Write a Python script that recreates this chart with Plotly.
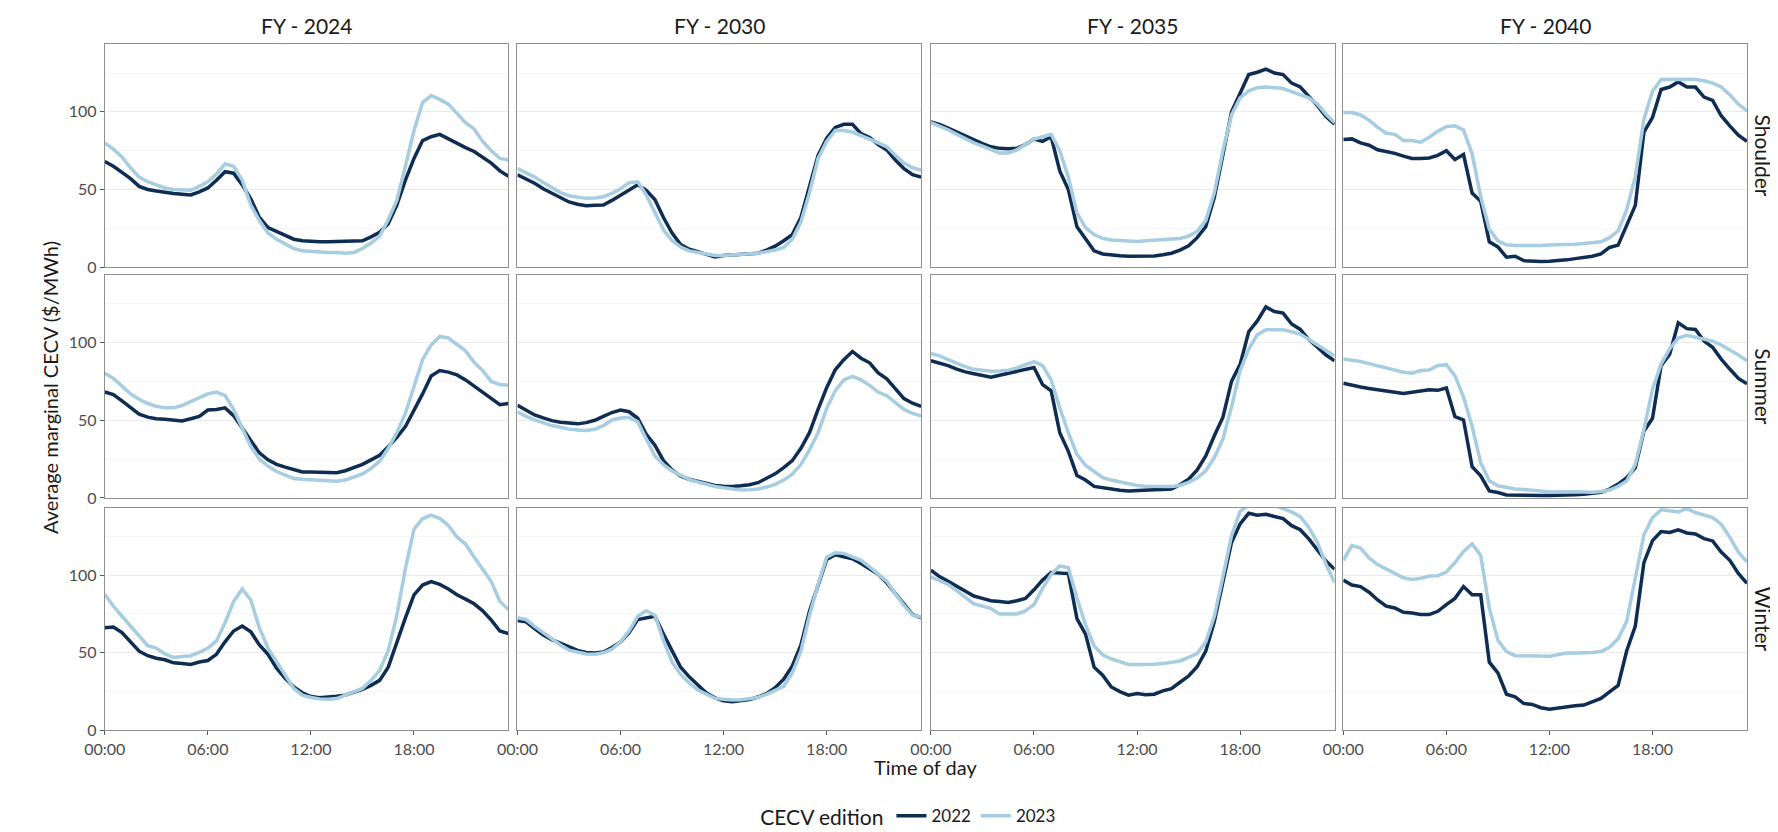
import plotly.graph_objects as go

# ---------------- data ----------------
hours = [i * 0.5 for i in range(48)]
tick_vals = [0, 6, 12, 18]
tick_text = ["00:00", "06:00", "12:00", "18:00"]
years = ["FY - 2024", "FY - 2030", "FY - 2035", "FY - 2040"]
seasons = ["Shoulder", "Summer", "Winter"]
editions = ["2022", "2023"]

shoulder_2024_e2022 = [68, 65, 61, 57, 52, 50, 49, 48, 47.5, 47, 46.5, 48.5, 51, 56, 61.5, 60.5, 53, 44, 32, 25.5, 23, 20.5, 18, 17, 16.5, 16.3, 16.3, 16.5, 16.5, 16.5, 17, 19.5, 22.5, 28, 40, 56, 70, 81.5, 84, 85.5, 82.5, 80, 77, 74.5, 71, 67, 62, 58.5]
shoulder_2024_e2023 = [80, 76, 71, 64, 58, 55, 53, 51, 50, 49.5, 49.5, 52, 55, 60, 66.5, 65, 56, 40, 30, 22, 18, 15, 12, 10.5, 10, 10, 9.5, 9.5, 9, 9.5, 12, 15.5, 20, 30.5, 43, 65, 88, 106, 110.5, 108, 105, 99, 93, 89, 81, 75, 70, 69]
shoulder_2030_e2022 = [59.5, 57, 54, 50.5, 47.5, 44.5, 42, 40.5, 39.5, 39.8, 40, 43, 46.5, 50, 53, 49.5, 43.5, 32, 22, 14.5, 11.5, 10, 8.5, 6.5, 7.5, 7.8, 8, 8.5, 9, 11, 13.5, 17, 21, 32, 53, 72, 83, 90, 92, 92, 86, 83.5, 79, 75.5, 69, 63.5, 59.5, 58]
shoulder_2030_e2023 = [63.5, 61, 58, 54.5, 51, 48, 46, 45, 44.3, 44.5, 45.3, 47.5, 50.5, 54.4, 55, 46.5, 35, 24, 17, 13, 10.5, 9.5, 8.5, 7.5, 7.5, 7.8, 8, 8.3, 9, 10, 11, 12.7, 18, 29, 48, 70, 81, 88, 88, 87, 85, 82.5, 80, 77.5, 72, 67, 64, 62.5]
shoulder_2035_e2022 = [93.5, 92, 89.5, 87, 84, 81.5, 79.5, 77.5, 76.5, 76.3, 76.5, 79, 82.5, 81, 84, 62, 50, 26, 18.5, 10.5, 8.5, 7.8, 7.3, 7, 7, 7, 7.2, 8, 9, 11, 13.8, 19, 26, 45, 74, 100, 112, 124, 125.5, 127.5, 125, 124, 118.5, 116, 110, 104, 97, 92]
shoulder_2035_e2023 = [93, 91, 88.5, 85.5, 82.5, 80, 78, 76, 73.5, 73.5, 75.5, 79, 82.5, 84, 85.5, 75, 58, 35, 25.5, 21, 18.5, 17.5, 17, 16.5, 16.5, 17, 17.5, 17.5, 18, 18.5, 20, 23, 30, 48, 75, 98, 109, 113.5, 115.5, 116, 115.5, 115, 113, 111, 109, 105, 98.5, 93]
shoulder_2040_e2022 = [82.2, 82.6, 80, 78.5, 75.6, 74.5, 73.3, 71.5, 70, 70, 70.3, 72, 75, 69.3, 72.5, 47.7, 42.4, 16.3, 13, 6.4, 7, 4.2, 3.8, 3.6, 3.8, 4, 4.7, 5.5, 6.2, 7, 8.5, 12.7, 14.2, 27.5, 39.8, 87, 96.4, 114.4, 116, 119.3, 116, 116, 109.5, 107.4, 97.5, 91, 85, 81]
shoulder_2040_e2023 = [99.6, 99.6, 98, 94.7, 90, 86.2, 85.5, 81.6, 81.6, 80.5, 83.7, 87.5, 90.5, 91, 88.3, 73, 45.5, 24.4, 17, 14.4, 14, 13.9, 13.8, 14, 14.2, 14.3, 14.4, 14.8, 15.2, 15.8, 16.3, 19, 23.3, 37, 58.3, 95.3, 113.3, 120.8, 121, 121.2, 121, 120.8, 120, 118.5, 116, 111, 105, 100.6]

summer_2024_e2022 = [68.2, 66.5, 62.5, 58, 54, 52, 51, 50.6, 50.3, 49.6, 51, 52.5, 56.6, 57, 58, 53, 45, 37, 29, 24.5, 21.6, 19.8, 18.4, 16.7, 16.7, 16.7, 16.5, 16.2, 17.5, 19.3, 21.6, 24.5, 27.5, 33, 39, 46, 56, 67, 78.5, 82, 81, 79.2, 76, 72, 68.5, 64.5, 60, 60.8]
summer_2024_e2023 = [80.3, 77, 72, 67, 63.5, 60.8, 59, 58, 58, 59.5, 62, 64.5, 67, 68.2, 66, 57, 45, 33, 25, 20.5, 17, 14.5, 12.5, 12, 11.8, 11.7, 11.2, 10.8, 11.5, 13.5, 15.5, 19, 23.5, 32, 42, 54.4, 71, 89, 98.5, 104, 103, 99, 94.7, 87.3, 82, 75, 73, 72.5]
summer_2030_e2022 = [59.7, 56.5, 53.4, 51.5, 49.8, 48.7, 48, 47.7, 48.5, 50, 52.5, 55, 56.6, 55.5, 51.3, 41, 34, 24, 18, 14, 12, 10.5, 9.3, 8, 7.6, 7.4, 7.8, 8.5, 9.8, 12.5, 15.5, 19.5, 24, 32, 42, 57, 71, 82.5, 89, 94.3, 90, 87, 80.5, 76.7, 70.3, 64, 61, 59]
summer_2030_e2023 = [55.5, 52.5, 50.2, 48.5, 46.6, 45.5, 44.3, 43.8, 43.4, 44.2, 46.5, 50.2, 51.5, 51.9, 49, 38, 27, 21.5, 17.4, 14.5, 12, 10.3, 8.7, 7.4, 6.5, 5.8, 5.1, 5.3, 5.7, 7, 8.7, 11.5, 15.3, 21.5, 31, 42, 57.6, 69, 76, 78.2, 76, 72.5, 68.2, 65.8, 61.5, 57, 54.5, 52.8]
summer_2035_e2022 = [88.3, 87, 85.2, 83, 81.2, 80, 79, 77.8, 79, 80.3, 81.5, 83, 84, 73, 69, 42, 30, 14.5, 11.5, 7.4, 6.5, 5.6, 5, 4.5, 4.6, 5, 5.2, 5.5, 5.8, 8.5, 12, 18, 27, 40, 52, 75, 86, 107, 114, 123, 120, 119, 112, 108.5, 102, 97, 92, 88.3]
summer_2035_e2023 = [93, 91.5, 89, 86.5, 84.5, 82.8, 82, 81.6, 81.8, 82.3, 83.7, 85.5, 87.7, 85.2, 76, 58, 42, 28, 21, 17, 13.1, 11.5, 10.3, 9, 8, 7.6, 7.4, 7.4, 7.4, 8, 10, 13, 17.5, 26, 38, 58.7, 82, 95.8, 105, 108.3, 108.5, 108.3, 107, 105.5, 102, 98.5, 94.5, 91.5]
summer_2040_e2022 = [73.9, 72.5, 71.4, 70.5, 69.6, 68.8, 68.2, 67.2, 68, 68.8, 69.7, 69.3, 70.8, 52.3, 50.2, 20.1, 14.2, 4.5, 3.5, 1.9, 1.7, 1.5, 1.5, 1.5, 1.5, 1.5, 1.7, 2, 2.4, 3, 3.6, 5.7, 8.9, 13.1, 19.5, 43, 51.3, 85.2, 92.6, 112.7, 109, 108.5, 101, 97, 89.4, 83, 77, 73.5]
summer_2040_e2023 = [89.4, 88.6, 87.9, 86.5, 85, 83.5, 82.4, 80.9, 80.3, 82, 82.4, 85.2, 85.8, 78.8, 65, 46, 22.7, 11, 7.8, 6.5, 5.7, 5.4, 5.1, 4.5, 3.8, 4, 4.2, 4, 3.8, 3.6, 4.2, 5.1, 7.5, 11, 21.6, 43.9, 70, 86.2, 96, 103, 104.7, 103.6, 102.3, 101, 98.5, 95.5, 92, 88.3]

winter_2024_e2022 = [66.1, 66.5, 63, 57, 51, 48.1, 46.5, 45.5, 43.5, 43, 42.4, 44, 45, 49, 57, 64, 67.2, 63.5, 55, 49, 40, 33.5, 28, 24.2, 21.8, 21, 21.3, 22, 22.7, 24.5, 26.5, 29, 32.2, 40.7, 57, 72.5, 87.3, 93.6, 95.8, 94, 91, 87.3, 84.5, 81.5, 77, 71, 64, 62.3]
winter_2024_e2023 = [87.7, 80, 73.5, 67.2, 61, 54.5, 53, 49.2, 47, 47.3, 48.1, 50.2, 53, 57.6, 69.3, 83, 91.1, 84, 66, 53, 44, 35.5, 27, 22.7, 21.2, 20.3, 20, 20.5, 22.7, 24.5, 27, 32.2, 38.6, 51.3, 74, 104.2, 129.5, 136.4, 138.6, 136.5, 132, 124.5, 120, 111.7, 104.2, 95.8, 83, 77.8]
winter_2030_e2022 = [70.8, 69.9, 65.5, 61.4, 58.5, 56, 53.4, 51.5, 50.2, 49.8, 50.5, 53.4, 57, 63, 71.4, 72.5, 73.5, 62, 51, 40.7, 34.5, 29, 24, 21, 19, 18.4, 19, 19.8, 21.5, 23.7, 27.5, 33, 41.5, 55, 76.7, 93.5, 110, 113.1, 112, 110.5, 107.5, 104, 100.5, 95, 88.3, 81, 74.6, 72.5]
winter_2030_e2023 = [72.5, 71.4, 67, 62.9, 58.5, 55, 51.7, 50.3, 49.2, 49, 50, 52.3, 57, 64, 73.5, 77.1, 74.2, 58, 44, 36, 30.5, 26, 23, 20.6, 20, 19.5, 19.7, 20.2, 21.2, 23.2, 25.5, 28.4, 37, 51, 74, 94, 111.5, 114.4, 114, 112, 109.5, 105.3, 100.5, 96, 88, 80.5, 74.2, 72.9]
winter_2035_e2022 = [103.2, 99, 96, 93, 90, 86.5, 85, 83.5, 83, 82.4, 83.5, 85, 90.5, 96.8, 101.7, 101.5, 101, 72, 62, 40.7, 35.5, 28, 25, 22.7, 23.7, 23, 23.3, 25.5, 26.9, 31, 35, 41, 51, 70, 96, 121, 133, 139.8, 138.6, 139.2, 137.7, 136.4, 131.8, 129.2, 123.3, 115.9, 109, 103.8]
winter_2035_e2023 = [98.9, 96.5, 94, 90, 86, 81.5, 80, 78.4, 75, 75, 75, 77, 81, 91.5, 100.5, 105.9, 104.7, 85.2, 68, 54.4, 48.7, 46, 44, 42.5, 42.4, 42.4, 42.6, 43, 43.8, 44.7, 47, 49.5, 57, 73.5, 99, 125.4, 141, 145, 146, 146, 145, 143, 140.7, 137.7, 130.7, 121, 107, 95.3]
winter_2040_e2022 = [96.8, 93.6, 92.6, 89, 84, 80, 78.8, 76, 75.6, 74.6, 74.6, 76.7, 81, 85, 92.6, 87.3, 87.3, 43.9, 37, 23.3, 21.6, 17.4, 16.7, 14.6, 13.6, 14.5, 15.3, 15.8, 16.3, 18.4, 20.6, 24.8, 29, 51.3, 67.2, 108, 122.2, 128, 127.5, 129.2, 127.1, 126.5, 123.5, 122, 114.8, 109.5, 101.1, 94.7]
winter_2040_e2023 = [109.5, 119, 117.4, 111, 106.8, 103.8, 101.1, 98.3, 97.2, 97.9, 99.4, 99.6, 102, 108, 115.3, 120.1, 112.7, 78.8, 58, 50.8, 48.1, 48.1, 48, 47.8, 47.7, 48.8, 49.8, 49.8, 49.8, 50.2, 50.8, 53.5, 59, 70.3, 98, 126, 137, 142, 141.5, 140.7, 142.8, 140.3, 138.6, 137, 132.8, 124.5, 114.8, 108.5]

panels = {
    ("Shoulder", 0): (shoulder_2024_e2022, shoulder_2024_e2023),
    ("Shoulder", 1): (shoulder_2030_e2022, shoulder_2030_e2023),
    ("Shoulder", 2): (shoulder_2035_e2022, shoulder_2035_e2023),
    ("Shoulder", 3): (shoulder_2040_e2022, shoulder_2040_e2023),
    ("Summer", 0): (summer_2024_e2022, summer_2024_e2023),
    ("Summer", 1): (summer_2030_e2022, summer_2030_e2023),
    ("Summer", 2): (summer_2035_e2022, summer_2035_e2023),
    ("Summer", 3): (summer_2040_e2022, summer_2040_e2023),
    ("Winter", 0): (winter_2024_e2022, winter_2024_e2023),
    ("Winter", 1): (winter_2030_e2022, winter_2030_e2023),
    ("Winter", 2): (winter_2035_e2022, winter_2035_e2023),
    ("Winter", 3): (winter_2040_e2022, winter_2040_e2023),
}

# ---------------- styling / layout ----------------
W, H = 1778, 832
FONT = "Lato"
colors = {"2022": "#0f2d52", "2023": "#a7cde0"}
col_left = [76.7, 494.3, 912.7, 1330.0]
panel_w = 408.5
row_top = [36.7, 270.0, 505.0]
panel_h = 225.3
Y_MAX = 143.5

fig = go.Figure()
layout = {}
idx = 0
for r, season in enumerate(seasons):
    for c in range(4):
        idx += 1
        sfx = "" if idx == 1 else str(idx)
        xa, ya = "x" + sfx, "y" + sfx
        s22, s23 = panels[(season, c)]
        for ed, vals in zip(editions, (s22, s23)):
            fig.add_trace(go.Scatter(
                x=hours, y=vals, mode="lines", name=ed,
                line=dict(color=colors[ed], width=3.5),
                xaxis=xa, yaxis=ya, legendgroup=ed,
                showlegend=(idx == 1), hoverinfo="skip"))
        bottom = (r == 2)
        left = (c == 0)
        layout["xaxis" + sfx] = dict(
            domain=[col_left[c] / W, (col_left[c] + panel_w) / W],
            range=[0, 23.5], anchor=ya, tickmode="array",
            tickvals=tick_vals, ticktext=tick_text,
            showticklabels=bottom, ticks="outside" if bottom else "",
            ticklen=4, tickwidth=1, tickcolor="#555555",
            tickfont=dict(family=FONT, size=16, color="#4d4d4d"),
            showgrid=False, zeroline=False,
            showline=True, mirror=True, linecolor="#8f8f8f", linewidth=1)
        layout["yaxis" + sfx] = dict(
            domain=[1 - (row_top[r] + panel_h) / H, 1 - row_top[r] / H],
            range=[0, Y_MAX], anchor=xa, tickmode="array",
            tickvals=[0, 50, 100], ticktext=["0", "50", "100"],
            showticklabels=left, ticks="outside" if left else "",
            ticklen=4, tickwidth=1, tickcolor="#555555",
            tickfont=dict(family=FONT, size=16, color="#4d4d4d"),
            showgrid=True, gridcolor="#ebebeb", gridwidth=1,
            minor=dict(tickvals=[25, 75, 125], showgrid=True,
                       gridcolor="#f5f5f5", gridwidth=1, ticks=""),
            zeroline=False,
            showline=True, mirror=True, linecolor="#8f8f8f", linewidth=1)

annotations = []
for c, yr in enumerate(years):
    annotations.append(dict(
        text=yr, x=(col_left[c] + panel_w / 2) / W, y=1 - 18 / H,
        xref="paper", yref="paper", showarrow=False,
        xanchor="center", yanchor="middle",
        font=dict(family=FONT, size=21, color="#1a1a1a")))
for r, season in enumerate(seasons):
    annotations.append(dict(
        text=season, x=1755 / W, y=1 - (row_top[r] + panel_h / 2) / H,
        xref="paper", yref="paper", showarrow=False, textangle=90,
        xanchor="center", yanchor="middle",
        font=dict(family=FONT, size=21, color="#1a1a1a")))
annotations.append(dict(
    text="Time of day", x=(col_left[0] + col_left[3] + panel_w) / 2 / W,
    y=1 - 767 / H, xref="paper", yref="paper", showarrow=False,
    xanchor="center", yanchor="middle",
    font=dict(family=FONT, size=20, color="#1a1a1a")))
annotations.append(dict(
    text="Average marginal CECV ($/MWh)", x=22 / W,
    y=1 - (row_top[0] + row_top[2] + panel_h) / 2 / H,
    xref="paper", yref="paper", showarrow=False, textangle=-90,
    xanchor="center", yanchor="middle",
    font=dict(family=FONT, size=20, color="#1a1a1a")))

fig.update_layout(
    width=W, height=H,
    margin=dict(l=0, r=0, t=0, b=0),
    paper_bgcolor="white", plot_bgcolor="white",
    font=dict(family=FONT, color="#1a1a1a"),
    annotations=annotations,
    showlegend=True,
    legend=dict(
        orientation="h", x=738 / W, y=1 - 818 / H,
        xanchor="left", yanchor="middle",
        title=dict(text="CECV edition", side="left",
                   font=dict(family=FONT, size=21, color="#1a1a1a")),
        font=dict(family=FONT, size=17, color="#1a1a1a"),
        bgcolor="rgba(0,0,0,0)", itemwidth=30, tracegroupgap=0),
    **layout)

fig.write_html("out.html")
